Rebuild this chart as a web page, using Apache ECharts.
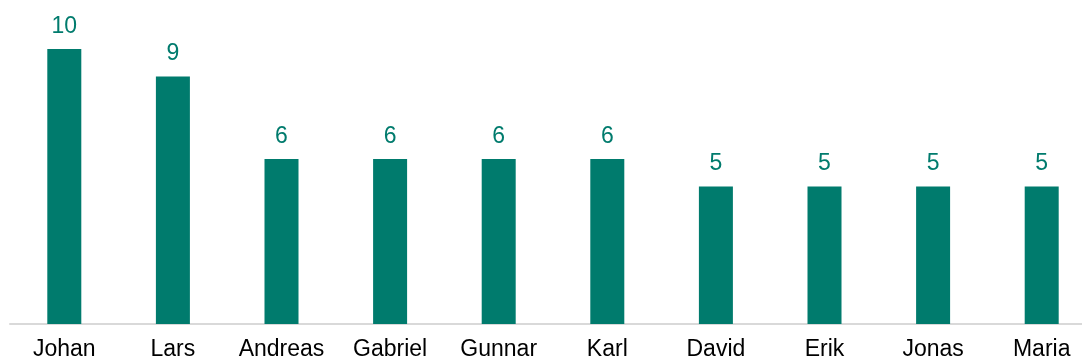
<!DOCTYPE html>
<html>
<head>
<meta charset="utf-8">
<script src="https://cdn.jsdelivr.net/npm/echarts@6/dist/echarts.min.js"></script>
<style>
  html, body { margin: 0; padding: 0; background: #ffffff; overflow: hidden; }
  #frame { width: 1082px; height: 362px; overflow: hidden; }
  /* the plot runs a little past the right edge, so the last band is cut off */
  #chart { width: 1096px; height: 362px; }
</style>
</head>
<body>
<div id="frame"><div id="chart"></div></div>
<script>
// Names and their counts
const names = ['Johan', 'Lars', 'Andreas', 'Gabriel', 'Gunnar', 'Karl', 'David', 'Erik', 'Jonas', 'Maria'];
const counts = [10, 9, 6, 6, 6, 6, 5, 5, 5, 5];

const teal = '#007B6D';

const chart = echarts.init(document.getElementById('chart'), null, { renderer: 'canvas' });
chart.setOption({
  animation: false,
  grid: { left: 10, right: 0, top: 49, bottom: 38, containLabel: false },
  xAxis: {
    type: 'category',
    data: names,
    axisLine: { show: true, lineStyle: { color: '#d9d9d9', width: 2 } },
    axisTick: { show: false },
    axisLabel: {
      color: '#000000',
      fontFamily: 'Liberation Sans, Arial, sans-serif',
      fontSize: 23,
      margin: 14,
      interval: 0
    }
  },
  yAxis: {
    type: 'value',
    min: 0,
    max: 10,
    show: false,
    splitLine: { show: false }
  },
  series: [{
    type: 'bar',
    data: counts,
    barWidth: 34,
    itemStyle: { color: teal },
    label: {
      show: true,
      position: 'top',
      distance: 11,
      color: teal,
      fontFamily: 'Liberation Sans, Arial, sans-serif',
      fontSize: 23
    }
  }]
});
</script>
</body>
</html>
